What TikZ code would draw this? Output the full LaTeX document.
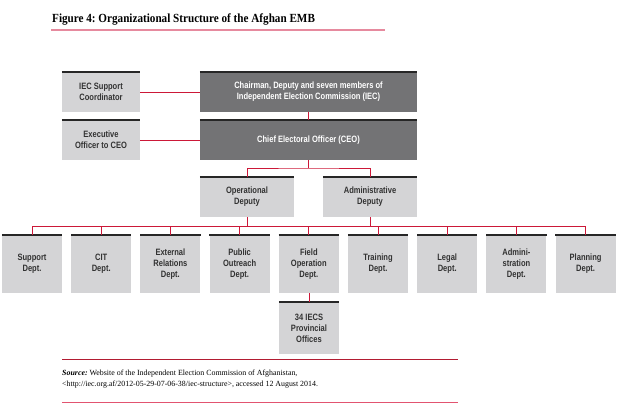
\documentclass[tikz,border=0pt]{standalone}
\usepackage{fontspec}
\setmainfont{Liberation Serif}
\setsansfont{Liberation Sans}[FakeStretch=0.82]
\newfontfamily\titlefont{Liberation Serif}[FakeStretch=0.9]
\definecolor{linkred}{RGB}{204,24,56}
\definecolor{rulepink}{RGB}{230,138,158}
\definecolor{ruledark}{RGB}{178,28,50}
\definecolor{rulelow}{RGB}{226,84,112}
\definecolor{boxlight}{RGB}{212,212,214}
\definecolor{boxdark}{RGB}{115,115,117}
\definecolor{textdark}{RGB}{50,50,50}
\frenchspacing
\begin{document}
\begin{tikzpicture}[
    x=1pt, y=-1pt,
    orgbox/.style={inner sep=0pt, align=center,
      font=\sffamily\bfseries\fontsize{9.2}{11}\selectfont},
    lightbox/.style={orgbox, fill=boxlight, text=textdark},
    darkbox/.style={orgbox, fill=boxdark, text=white,
      minimum width=217pt, minimum height=39pt},
    sidebox/.style={lightbox, minimum width=78pt, minimum height=39pt},
    deputybox/.style={lightbox, minimum width=94pt, minimum height=40pt},
    deptbox/.style={lightbox, minimum width=60pt, minimum height=58pt},
    link/.style={draw=linkred, line width=1pt},
    topline/.style={draw=black!85, line width=2pt},
  ]

  % Title and its rule
  \node[anchor=base west, font=\titlefont\bfseries\fontsize{12.4}{14}\selectfont, inner sep=0pt]
    (title) at (52,22) {Figure 4: Organizational Structure of the Afghan EMB};
  \draw[draw=rulepink, line width=2pt] (51,30) -- (385,30);

  % Commission and CEO level
  \node[sidebox] (support) at (101,92) {IEC Support\\Coordinator};
  \node[darkbox] (iec) at (308.5,92)
    {Chairman, Deputy and seven members of\\Independent Election Commission (IEC)};
  \node[sidebox] (execoff) at (101,140) {Executive\\Officer to CEO};
  \node[darkbox] (ceo) at (308.5,140) {Chief Electoral Officer (CEO)};

  % Deputies
  \node[deputybox] (opdep) at (247,197) {Operational\\Deputy};
  \node[deputybox] (addep) at (370,197) {Administrative\\Deputy};

  % Departments
  \foreach \i/\txt in {1/{Support\\Dept.}, 2/{CIT\\Dept.}, 3/{External\\Relations\\Dept.},
      4/{Public\\Outreach\\Dept.}, 5/{Field\\Operation\\Dept.}, 6/{Training\\Dept.},
      7/{Legal\\Dept.}, 8/{Admini-\\stration\\Dept.}, 9/{Planning\\Dept.}}
    \node[deptbox] (dept\i) at ({32+69.2*(\i-1)},264) {\txt};

  \node[lightbox, minimum width=60pt, minimum height=52pt] (prov) at (309,328)
    {34 IECS\\Provincial\\Offices};

  % Black top edges
  \foreach \n in {support, iec, execoff, ceo, opdep, addep, prov,
      dept1, dept2, dept3, dept4, dept5, dept6, dept7, dept8, dept9}
    \draw[topline] (\n.north west) -- (\n.north east);

  % Connectors
  \coordinate (upbus) at (308.5,168);
  \coordinate (lowbus) at (308,226);
  \draw[link] (support) -- (iec);
  \draw[link] (execoff) -- (ceo);
  \draw[link] (iec) -- (ceo);
  \draw[link] (ceo.south) -- (upbus);
  \draw[link] (opdep.north) |- (upbus) -| (addep.north);
  \draw[link] (opdep.south) -- (opdep.south |- lowbus);
  \draw[link] (addep.south) -- (addep.south |- lowbus);
  \draw[link] (dept1.north |- lowbus) -- (dept9.north |- lowbus);
  \foreach \i in {1,...,9}
    \draw[link] (dept\i.north) -- (dept\i.north |- lowbus);
  \draw[link] (dept5.south -| prov.north) -- (prov.north);

  % Source note
  \draw[draw=ruledark, line width=0.8pt] (62,359) -- (458,359);
  \node[anchor=north west, inner sep=0pt, align=left,
    font=\fontsize{7.9}{11}\selectfont] (source) at (62,370)
    {\textbf{\textit{Source:}} Website of the Independent Election Commission of Afghanistan,\\
     <http://iec.org.af/2012-05-29-07-06-38/iec-structure>, accessed 12 August 2014.};
  \draw[draw=rulelow, line width=0.8pt] (62,402) -- (458,402);

  \path[use as bounding box] (0,0) rectangle (620,416);
\end{tikzpicture}
\end{document}
